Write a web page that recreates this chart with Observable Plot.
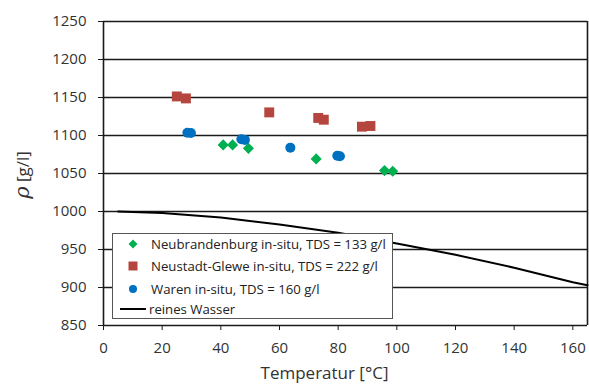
<!DOCTYPE html>
<html>
<head>
<meta charset="utf-8">
<script src="https://cdn.jsdelivr.net/npm/d3@7"></script>
<script src="https://cdn.jsdelivr.net/npm/@observablehq/plot@0.6"></script>
<style>
  html, body { margin: 0; padding: 0; background: #fff; }
  #wrap { position: relative; width: 589px; height: 389px; font-family: "Open Sans", sans-serif; }
  #legend { position: absolute; left: 112px; top: 233px; width: 281px; height: 86px; background: #fff; border: 1.3px solid #555; box-sizing: border-box; }
  .row { position: absolute; left: 0; height: 20px; display: flex; align-items: center; font-size: 13.2px; color: #222; white-space: nowrap; }
  .row svg { display: block; }
</style>
</head>
<body>
<div id="wrap"></div>
<script>
// Data
const neubrandenburgT = [40.8, 44.0, 49.4, 72.5, 95.8, 98.6];
const neubrandenburgRho = [1087.6, 1087.6, 1083.1, 1069.2, 1053.8, 1052.9];
const neustadtT = [25.0, 28.1, 56.5, 73.2, 75.1, 88.1, 91.0];
const neustadtRho = [1151.4, 1148.8, 1130.4, 1123.1, 1120.8, 1111.6, 1112.5];
const warenT = [28.6, 29.8, 47.0, 48.2, 63.7, 79.7, 80.6];
const warenRho = [1103.6, 1103.2, 1095.0, 1094.2, 1084.0, 1073.4, 1072.8];
const wasserT = [5, 20, 40, 60, 80, 100, 120, 140, 160, 165];
const wasserRho = [1000, 998, 992, 983, 972, 958, 943, 926, 907, 903];
const xTicks = [0, 20, 40, 60, 80, 100, 120, 140, 160];
const yTicks = [850, 900, 950, 1000, 1050, 1100, 1150, 1200, 1250];
const seriesNames = ["Neubrandenburg in-situ, TDS = 133 g/l", "Neustadt-Glewe in-situ, TDS = 222 g/l", "Waren in-situ, TDS = 160 g/l", "reines Wasser"];
const colors = ["#00B050", "#B5463F", "#0070C0", "#000000"];

const toRows = (xs, ys) => xs.map((t, i) => ({t, rho: ys[i]}));
const nb = toRows(neubrandenburgT, neubrandenburgRho);
const ng = toRows(neustadtT, neustadtRho);
const wa = toRows(warenT, warenRho);
const ww = toRows(wasserT, wasserRho);

const chart = Plot.plot({
  width: 589,
  height: 389,
  marginLeft: 103,
  marginRight: 2,
  marginTop: 21,
  marginBottom: 64,
  style: {fontFamily: "Open Sans, sans-serif", background: "#fff", overflow: "visible"},
  x: {domain: [0, 165]},
  y: {domain: [850, 1250]},
  marks: [
    Plot.ruleY(yTicks.slice(1), {stroke: "#1a1a1a", strokeWidth: 1.6}),
    Plot.ruleX([165], {stroke: "#1a1a1a", strokeWidth: 1.6}),
    Plot.line(ww, {x: "t", y: "rho", stroke: colors[3], strokeWidth: 2}),
    Plot.dot(nb, {x: "t", y: "rho", symbol: "diamond2", r: 5, fill: colors[0], stroke: "none"}),
    Plot.dot(ng, {x: "t", y: "rho", symbol: "square", r: 5.6, fill: colors[1], stroke: "none"}),
    Plot.dot(wa, {x: "t", y: "rho", symbol: "circle", r: 5, fill: colors[2], stroke: "none"}),
    Plot.axisY({ticks: yTicks, tickFormat: d => String(d), tickSize: 5, tickPadding: 12, fontSize: 15, color: "#333", stroke: "#1a1a1a", label: null}),
    Plot.axisX({ticks: xTicks, tickFormat: d => String(d), tickSize: 5, tickPadding: 12, fontSize: 15, color: "#333", stroke: "#1a1a1a", label: null}),
    Plot.ruleX([0], {stroke: "#1a1a1a", strokeWidth: 1.6}),
    Plot.ruleY([850], {stroke: "#1a1a1a", strokeWidth: 1.6}),
    Plot.text(["Temperatur [°C]"], {frameAnchor: "bottom", dx: -21, dy: 48, fontSize: 17, fill: "#333", lineAnchor: "middle"})
  ]
});

const wrap = document.getElementById("wrap");
wrap.appendChild(chart);

// y title
const ytitle = document.createElement("div");
ytitle.style.cssText = "position:absolute;left:22px;top:175px;transform:translate(-50%,-50%) rotate(-90deg);font-size:17px;color:#333;white-space:nowrap;";
ytitle.innerHTML = '<span style="font-style:italic;font-size:21px;font-family:\'DejaVu Serif\',serif">ρ</span> [g/l]';
wrap.appendChild(ytitle);

// legend
const legend = document.createElement("div");
legend.id = "legend";
const rowTops = [243, 265, 288, 308];
const shapes = [
  `<svg width="14" height="14"><path d="M7,2.5L11.5,7L7,11.5L2.5,7Z" fill="${colors[0]}"/></svg>`,
  `<svg width="14" height="14"><rect x="2.5" y="2.5" width="9" height="9" fill="${colors[1]}"/></svg>`,
  `<svg width="14" height="14"><circle cx="7" cy="7" r="4" fill="${colors[2]}"/></svg>`,
  `<svg width="26" height="14"><line x1="0" y1="7" x2="26" y2="7" stroke="${colors[3]}" stroke-width="2"/></svg>`
];
seriesNames.forEach((name, i) => {
  const row = document.createElement("div");
  row.className = "row";
  row.style.top = (rowTops[i] - 233 - 10) + "px";
  if (i < 3) {
    row.style.left = (125 - 112) + "px";
    row.innerHTML = shapes[i] + `<span style="margin-left:11px">${name}</span>`;
  } else {
    row.style.left = (119 - 112) + "px";
    row.innerHTML = shapes[i] + `<span style="margin-left:3px">${name}</span>`;
  }
  legend.appendChild(row);
});
wrap.appendChild(legend);
</script>
</body>
</html>
